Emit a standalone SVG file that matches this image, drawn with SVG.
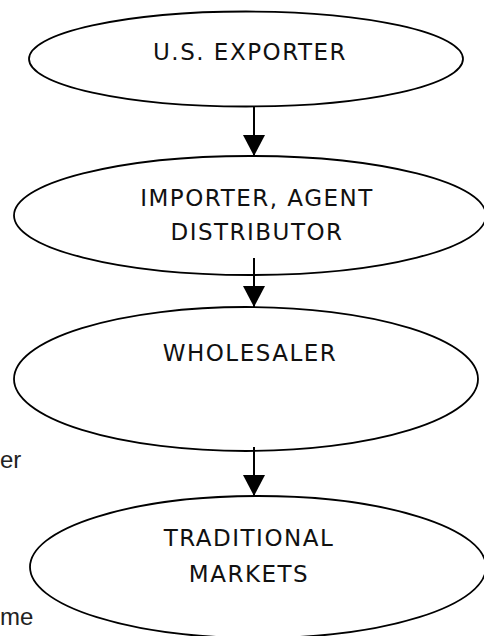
<svg xmlns="http://www.w3.org/2000/svg" width="484" height="636" viewBox="0 0 484 636">
<style>
.node ellipse{fill:#fff;stroke:#000;stroke-width:1.8}
.lbl{font-family:"DejaVu Sans",Verdana,sans-serif;font-size:23px;letter-spacing:1.5px;fill:#111;text-anchor:middle}
.side{font-family:"Liberation Sans",Arial,sans-serif;font-size:24px;fill:#222}
.conn line{stroke:#000;stroke-width:2}
</style>
<defs>
<marker id="ah" markerUnits="userSpaceOnUse" markerWidth="22" markerHeight="22" refX="21" refY="11" orient="auto">
<path d="M0,0 L21,11 L0,22 Z" fill="#000"/>
</marker>
</defs>
<text class="side" x="0" y="468">er</text>
<text class="side" x="0" y="625">me</text>
<g id="n1" class="node">
<ellipse cx="246" cy="59" rx="217" ry="47.5"/>
<text class="lbl" x="250" y="60">U.S. EXPORTER</text>
</g>
<g id="n2" class="node">
<ellipse cx="250" cy="215.5" rx="236" ry="59.5"/>
<text class="lbl" x="257" y="206">IMPORTER, AGENT</text>
<text class="lbl" x="257" y="240">DISTRIBUTOR</text>
</g>
<g id="n3" class="node">
<ellipse cx="246" cy="379" rx="232" ry="72"/>
<text class="lbl" x="250" y="361">WHOLESALER</text>
</g>
<g id="n4" class="node">
<ellipse cx="258" cy="567" rx="228" ry="71"/>
<text class="lbl" x="249" y="546">TRADITIONAL</text>
<text class="lbl" x="249" y="582">MARKETS</text>
</g>
<g id="connectors" class="conn">
<line x1="254" y1="106" x2="254" y2="156" marker-end="url(#ah)"/>
<line x1="254" y1="258" x2="254" y2="307" marker-end="url(#ah)"/>
<line x1="254" y1="447" x2="254" y2="496" marker-end="url(#ah)"/>
</g>
</svg>
